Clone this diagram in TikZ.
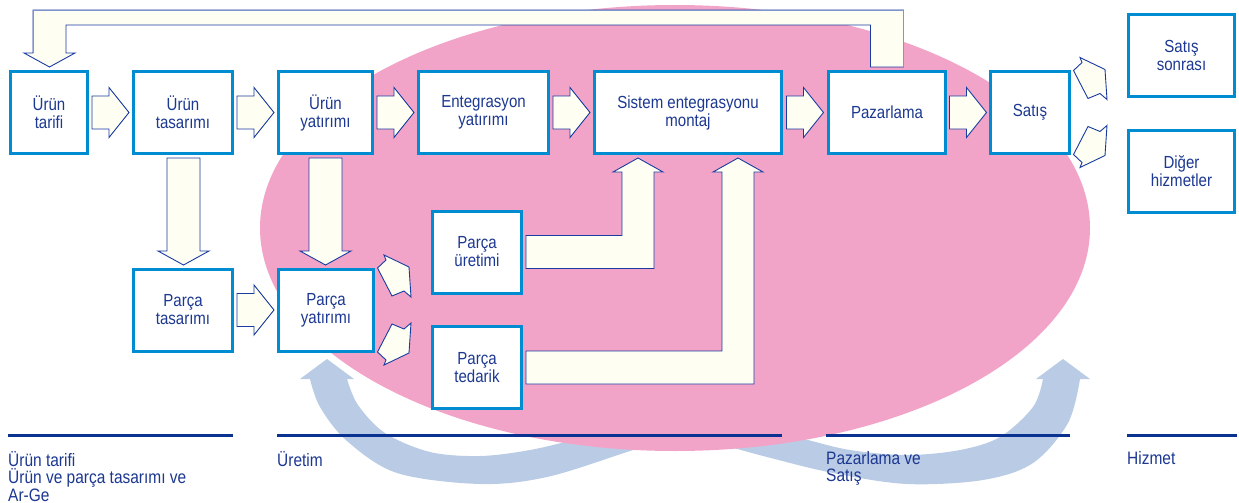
\documentclass[tikz,border=0pt]{standalone}
\usepackage{fontspec}
\setmainfont{Liberation Sans}[FakeStretch=0.86]
\usetikzlibrary{calc}
\definecolor{pinkfill}{RGB}{242,164,200}
\definecolor{boxblue}{RGB}{0,140,208}
\definecolor{txtblue}{RGB}{28,56,145}
\definecolor{arrline}{RGB}{25,60,160}
\definecolor{arrlight}{RGB}{125,150,205}
\definecolor{ivory}{RGB}{254,254,242}
\definecolor{bandblue}{RGB}{186,204,229}
\definecolor{rulecol}{RGB}{10,50,145}
\begin{document}
\begin{tikzpicture}[x=1pt,y=-1pt,
  box/.style={draw=boxblue, line width=3pt, fill=white, inner sep=0pt, align=center,
    text=txtblue, font=\fontsize{17.5}{18}\selectfont, minimum height=82pt},
  blk/.style={draw=arrline, line width=0.9pt, fill=ivory, line join=miter},
  lbl/.style={anchor=north west, inner sep=0pt, align=left, text=txtblue,
    font=\fontsize{18}{17.5}\selectfont},
  rulebar/.style={draw=rulecol, line width=3pt},
  pics/harr/.style={code={\draw[blk] (-18.5,-16.5) -- (-1.5,-16.5) -- (-1.5,-25) -- (18.5,0) -- (-1.5,25) -- (-1.5,16.5) -- (-18.5,16.5) -- cycle;}},
  pics/varr/.style={code={\draw[blk] (-16.5,0) -- (-16.5,93) -- (-25.5,93) -- (0,107) -- (25.5,93) -- (16.5,93) -- (16.5,0) -- cycle;}},
  pics/darr/.style={code={\draw[blk] (9,-55) -- (34,-43) -- (36,-13) -- (29,-19) -- (17,-14) -- (2.5,-42) -- (11,-50) -- cycle;}}
]
\useasboundingbox (0,0) rectangle (1239,503);
\fill[white] (0,0) rectangle (1239,503);

% light blue curved bands
\fill[bandblue] (300,379) -- (327,359) -- (354,379)
  -- plot[smooth, tension=0.55] coordinates {(347,379) (358,405) (385,433) (430,452) (480,456) (530,450) (580,438) (640,420) (705,400)}
  -- plot[smooth, tension=0.55] coordinates {(712,424) (630,451) (547,477) (480,484) (397,473) (347,441) (320,407) (310,379)}
  -- cycle;
\fill[bandblue] (1036,379) -- (1063,359) -- (1090,379)
  -- plot[smooth, tension=0.55] coordinates {(1080,379) (1068,423) (1033,463) (983,480) (907,484) (833,473) (767,457) (717,443) (650,422)}
  -- plot[smooth, tension=0.55] coordinates {(645,398) (700,413) (800,438) (850,450) (907,455) (960,450) (1000,437) (1033,407) (1043,379)}
  -- cycle;

% pink ellipse
\fill[pinkfill] (675,228) ellipse [x radius=415pt, y radius=223pt];

% boxes
\node[box, minimum width=77pt]  (ut)  at (49,112.5)    {Ürün\\tarifi};
\node[box, minimum width=99pt]  (uts) at (183,112.5)   {Ürün\\tasarımı};
\node[box, minimum width=94pt]  (uy)  at (325.5,112.5) {Ürün\\yatırımı};
\node[box, minimum width=130pt] (ey)  at (483.5,112.5) {Entegrasyon\\yatırımı};
\node[box, minimum width=187pt] (sys) at (688,112.5)   {Sistem entegrasyonu\\montaj};
\node[box, minimum width=117pt] (pz)  at (887,112.5)   {Pazarlama};
\node[box, minimum width=79pt]  (sat) at (1030,112.5)  {Satış};
\node[box, minimum width=106pt] (ss)  at (1181.5,55.5) {Satış\\sonrası};
\node[box, minimum width=106pt] (dh)  at (1181.5,171)  {Diğer\\hizmetler};
\node[box, minimum width=99pt]  (pts) at (183,310)     {Parça\\tasarımı};
\node[box, minimum width=95pt]  (py)  at (326,310)     {Parça\\yatırımı};
\node[box, minimum width=89pt]  (pu)  at (477,252)     {Parça\\üretimi};
\node[box, minimum width=89pt]  (pt)  at (477,367.5)   {Parça\\tedarik};

% horizontal block arrows
\path ($(ut.east)!0.5!(uts.west)$) pic {harr};
\path ($(uts.east)!0.5!(uy.west)$) pic {harr};
\path ($(uy.east)!0.5!(ey.west)$) pic {harr};
\path ($(ey.east)!0.5!(sys.west)$) pic {harr};
\path ($(sys.east)!0.5!(pz.west)$) pic {harr};
\path ($(pz.east)!0.5!(sat.west)$) pic {harr};
\path ($(pts.east)!0.5!(py.west)$) pic {harr};

% vertical block arrows
\path ($(uts.south)+(0.5,3)$) pic {varr};
\path ($(uy.south)+(0,3)$) pic {varr};

% small slanted arrows
\path (py.east) pic {darr};
\path (py.east) pic[yscale=-1] {darr};
\path (sat.east) pic {darr};
\path (sat.east) pic[yscale=-1] {darr};

% L-shaped arrows to system integration
\coordinate (t1) at ($(sys.south)+(-50,3)$);
\coordinate (t1l) at ($(t1)+(-16,14)$);
\coordinate (t1r) at ($(t1)+(16,14)$);
\coordinate (s1a) at ($(pu.east)+(3,-16.5)$);
\coordinate (s1b) at ($(pu.east)+(3,16.5)$);
\draw[blk] (s1a) -- (t1l |- s1a) -- (t1l) -- ($(t1l)+(-9,0)$) -- (t1) -- ($(t1r)+(9,0)$) -- (t1r) -- (t1r |- s1b) -- (s1b) -- cycle;
\coordinate (t2) at ($(sys.south)+(50,3)$);
\coordinate (t2l) at ($(t2)+(-16,14)$);
\coordinate (t2r) at ($(t2)+(16,14)$);
\coordinate (s2a) at ($(pt.east)+(3,-16.5)$);
\coordinate (s2b) at ($(pt.east)+(3,16.5)$);
\draw[blk] (s2a) -- (t2l |- s2a) -- (t2l) -- ($(t2l)+(-9,0)$) -- (t2) -- ($(t2r)+(9,0)$) -- (t2r) -- (t2r |- s2b) -- (s2b) -- cycle;

% return arrow from Pazarlama to Ürün tarifi
\coordinate (r0) at ($(pz.north)+(0,-3)$);
\coordinate (l0) at ($(ut.north)+(0.5,-3)$);
\draw[blk] ($(r0)+(-16.5,0)$) -- ($(r0)+(-16.5,-42)$) -- ($(l0)+(16.5,-42)$) -- ($(l0)+(16.5,-14)$)
  -- ($(l0)+(25.5,-14)$) -- (l0) -- ($(l0)+(-25.5,-14)$) -- ($(l0)+(-16.5,-14)$)
  -- ($(l0)+(-16.5,-57)$) -- ($(r0)+(16.5,-57)$) -- ($(r0)+(16.5,0)$) -- cycle;
\draw[arrlight, line width=0.9pt] ($(l0)+(-16.5,-14)$) -- ($(l0)+(-16.5,-57)$) -- ($(r0)+(16.5,-57)$) -- ($(r0)+(16.5,0)$);

% phase rules
\draw[rulebar] (8,435) -- (233,435);
\draw[rulebar] (277,435) -- (782,435);
\draw[rulebar] (826,435) -- (1070,435);
\draw[rulebar] (1127,435) -- (1237,435);

% phase labels
\node[lbl] (l1) at (8,451)    {Ürün tarifi\\Ürün ve parça tasarımı ve\\Ar-Ge};
\node[lbl] (l2) at (277,451)  {Üretim};
\node[lbl] (l3) at (826,451)  {Pazarlama ve\\Satış};
\node[lbl] (l4) at (1127,451) {Hizmet};
\end{tikzpicture}
\end{document}
